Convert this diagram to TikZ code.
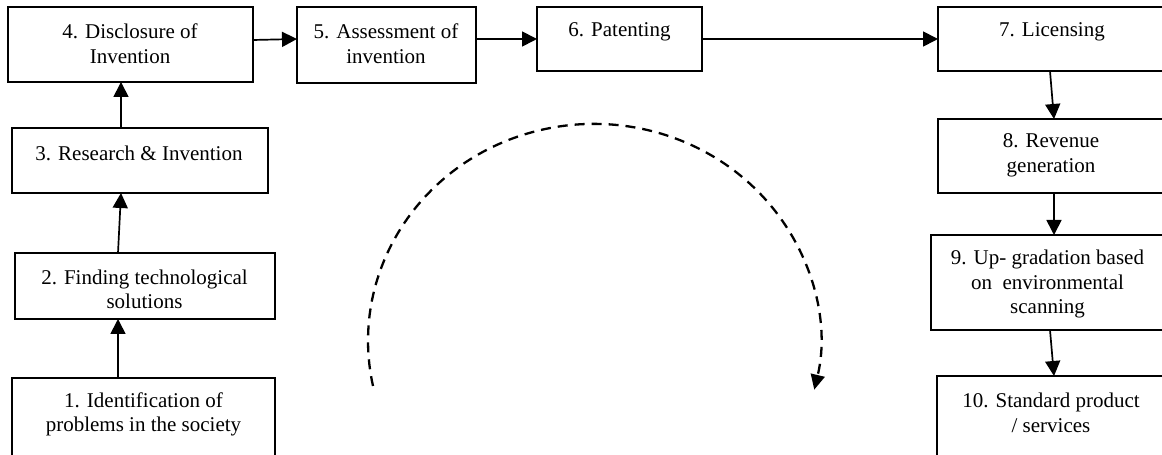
\documentclass[tikz,border=0pt]{standalone}
\usepackage{fontspec}
\setmainfont{Liberation Serif}
\usetikzlibrary{arrows.meta}
\begin{document}
\begin{tikzpicture}[x=1pt,y=1pt,
  box/.style={draw=black,line width=1.6pt,rectangle,inner sep=0pt,outer sep=0pt},
  lbl/.style={align=center,inner sep=0pt,font=\fontsize{21}{24.5}\selectfont},
  conn/.style={line width=1.7pt,-{Triangle[length=15pt,width=15pt]}},
  arcline/.style={line width=2.3pt,dash pattern=on 10pt off 7pt,-{Triangle[length=15pt,width=14pt]}}]
\useasboundingbox (0,0) rectangle (1162,455);
\fill[white] (0,0) rectangle (1162,455);
\clip (0,0) rectangle (1162,455);
% boxes
\node[box,minimum width=245pt,minimum height=75pt] (b4) at (130.5,410.5) {};
\node[box,minimum width=179pt,minimum height=76pt] (b5) at (386.5,410) {};
\node[box,minimum width=165pt,minimum height=64pt] (b6) at (619.5,416) {};
\node[box,minimum width=228pt,minimum height=64pt] (b7) at (1052,416) {};
\node[box,minimum width=256pt,minimum height=65pt] (b3) at (140,294.5) {};
\node[box,minimum width=260pt,minimum height=66pt] (b2) at (145,169) {};
\node[box,minimum width=263pt,minimum height=92pt] (b1) at (143.5,31) {};
\node[box,minimum width=230pt,minimum height=74pt] (b8) at (1053,299) {};
\node[box,minimum width=232pt,minimum height=95pt] (b9) at (1047,172.5) {};
\node[box,minimum width=226pt,minimum height=94pt] (b10) at (1050,32) {};
% labels
\node[lbl] (t4) at (130,411.5) {4. Disclosure of\\Invention};
\node[lbl] (t5) at (386,411.5) {5. Assessment of\\invention};
\node[lbl] (t6) at (619.5,423) {6. Patenting};
\node[lbl] (t7) at (1052,423) {7. Licensing};
\node[lbl] (t3) at (139,302) {3. Research \& Invention};
\node[lbl] (t8) at (1051,299.5) {8. Revenue\\generation};
\node[lbl] (t2) at (144.5,165.5) {2. Finding technological\\solutions};
\node[lbl] (t9) at (1047.5,171) {9. Up- gradation based\\on~~environmental\\scanning};
\node[lbl] (t1) at (143.5,40.5) {1. Identification of\\problems in the society};
\node[lbl] (t10) at (1051,42) {10. Standard product\\/ services};
% connectors
\draw[conn] ([yshift=4.5pt]b4.east) -- ([yshift=6pt]b5.west);
\draw[conn] ([yshift=6pt]b5.east) -- (b6.west);
\draw[conn] (b6.east) -- (b7.west);
\draw[conn] ([xshift=-19pt]b3.north) -- ([xshift=-9.5pt]b4.south);
\draw[conn] ([xshift=-27pt]b2.north) -- ([xshift=-19pt]b3.south);
\draw[conn] ([xshift=-25.5pt]b1.north) -- ([xshift=-27pt]b2.south);
\draw[conn] ([xshift=-2pt]b7.south) -- ([xshift=1pt]b8.north);
\draw[conn] ([xshift=1pt]b8.south) -- ([xshift=7pt]b9.north);
\draw[conn] ([xshift=3pt]b9.south) -- ([xshift=4pt]b10.north);
% dashed cycle arc
\coordinate (arcstart) at (373,69);
\draw[arcline] (arcstart) arc[start angle=192,end angle=-13,x radius=226pt,y radius=217pt];
\end{tikzpicture}
\end{document}
